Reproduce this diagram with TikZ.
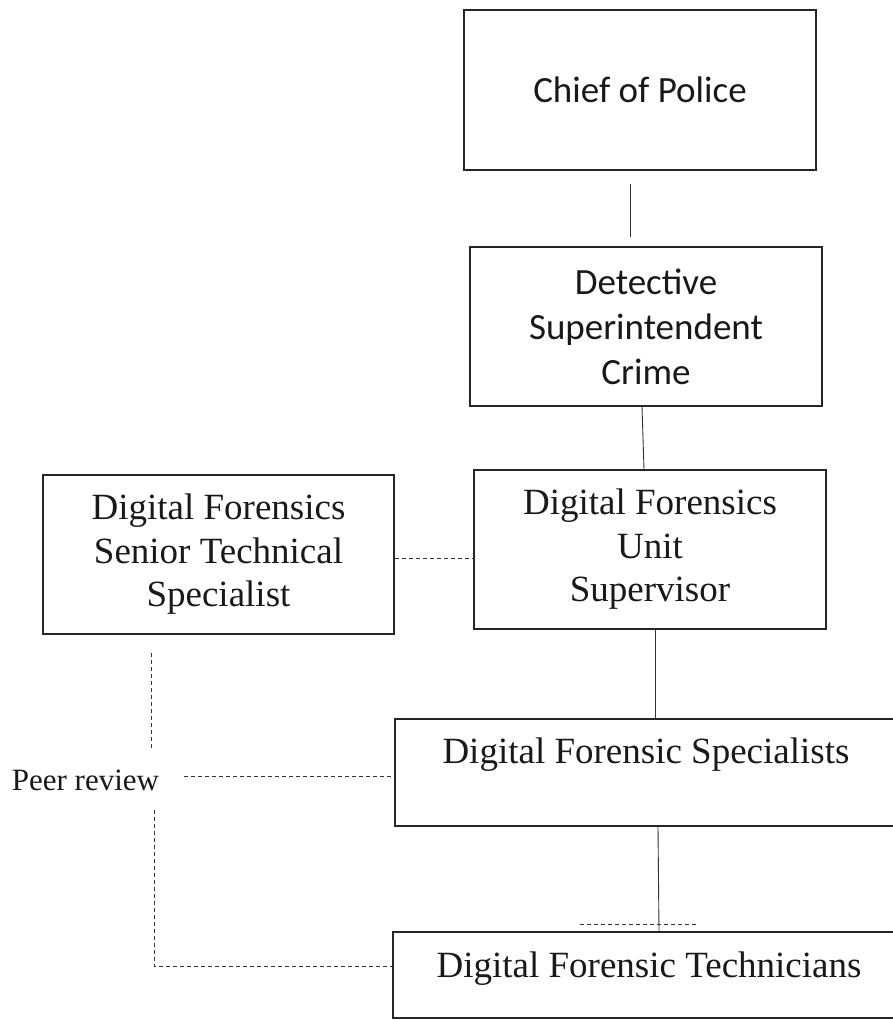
\documentclass[tikz,border=0pt]{standalone}
\usepackage{fontspec}
\setmainfont{Liberation Serif}
\newfontfamily\calibri{Carlito}
\usetikzlibrary{calc}

\tikzset{
	post/.style={draw=black!85, line width=1.5pt, text=black!90, align=center, inner sep=0pt},
	sanspost/.style={post, font=\calibri\fontsize{37}{45}\selectfont},
	serifpost/.style={post, font=\fontsize{37}{43.5}\selectfont},
	link/.style={draw=black!80, line width=0.9pt},
	dotlink/.style={draw=black!80, line width=0.9pt, dash pattern=on 4pt off 3pt}
}

\begin{document}
\begin{tikzpicture}[x=1pt, y=-1pt]
			%%%%% START %%%%%
			\useasboundingbox (0, 0) rectangle (893, 1021);
			
			\node[sanspost, minimum width=352pt, minimum height=160pt] (chief) at (640, 90) {Chief of Police};
			\node[sanspost, minimum width=352pt, minimum height=159pt] (detective) at (646, 326.5) {Detective\\Superintendent\\Crime};
			\node[serifpost, minimum width=352pt, minimum height=159pt] (supervisor) at (650, 549.5) {Digital Forensics\\Unit\\Supervisor};
			\node[serifpost, minimum width=351pt, minimum height=159pt] (senior) at (218.5, 554.5) {Digital Forensics\\Senior Technical\\Specialist};
			
			\node[serifpost, anchor=base, minimum width=502pt, text height=44pt, text depth=63pt] (specialists) at (646, 763) {Digital Forensic Specialists};
			\node[serifpost, anchor=base, minimum width=512pt, text height=45pt, text depth=41pt] (technicians) at (649, 977) {Digital Forensic Technicians};
			
			\node[font=\fontsize{31}{37}\selectfont, text=black!90, anchor=base, inner sep=0pt] (peer) at (85.5, 790) {Peer review};
			
			% solid lines
			\draw[link] ([xshift=-10pt, yshift=-13pt]chief.south) -- ([xshift=-16pt, yshift=9pt]detective.north);
			\draw[link] ([xshift=-4pt]detective.south) -- ([xshift=-6pt]supervisor.north);
			\draw[link] ([xshift=5pt]supervisor.south) -- ([xshift=9pt]specialists.north);
			\draw[link] ([xshift=12pt]specialists.south) -- ([xshift=10pt]technicians.north);
			
			% dashed lines
			\draw[dotlink] ([yshift=-3.5pt]senior.east) -- ([yshift=-3.5pt]senior.east -| supervisor.west);
			\coordinate (prtop) at (151, 653);
			\coordinate (prmid) at (184, 776);
			\coordinate (prlow) at (154, 810);
			\draw[dotlink] (prtop) -- (151, 748);
			\draw[dotlink] (prmid) -- (prmid -| specialists.west);
			\draw[dotlink] (prlow) |- ([yshift=9pt]technicians.west);
			\draw[dotlink] ([xshift=-69pt, yshift=7pt]technicians.north) -- ([xshift=47pt, yshift=7pt]technicians.north);
			%%%%% END %%%%%
\end{tikzpicture}
\end{document}
